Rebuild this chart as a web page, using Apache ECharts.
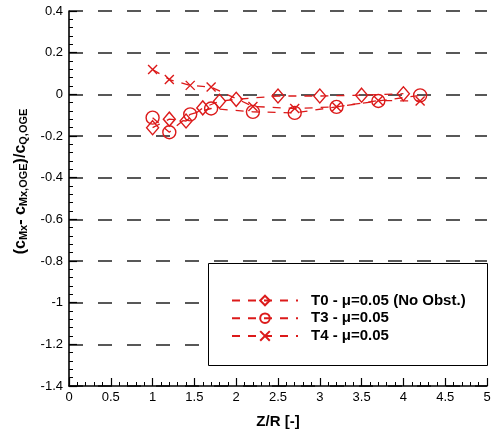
<!DOCTYPE html>
<html>
<head>
<meta charset="utf-8">
<script src="https://cdn.jsdelivr.net/npm/echarts@6/dist/echarts.min.js"></script>
<style>html,body{margin:0;padding:0;background:#fff}#c{width:494px;height:434px}</style>
</head>
<body>
<div id="c"></div>
<script>
var t0X = [1.0, 1.2, 1.4, 1.6, 1.8, 2.0, 2.5, 3.0, 3.5, 4.0];
var t0Y = [-0.160, -0.119, -0.128, -0.065, -0.033, -0.024, -0.008, -0.008, -0.004, 0.003];
var t3X = [1.0, 1.2, 1.45, 1.7, 2.2, 2.7, 3.2, 3.7, 4.2];
var t3Y = [-0.112, -0.182, -0.096, -0.068, -0.084, -0.089, -0.060, -0.032, -0.005];
var t4X = [1.0, 1.2, 1.45, 1.7, 2.2, 2.7, 3.2, 3.7, 4.2];
var t4Y = [0.119, 0.071, 0.043, 0.035, -0.058, -0.068, -0.060, -0.030, -0.032];
var seriesNames = ['T0 - \u03bc=0.05 (No Obst.)', 'T3 - \u03bc=0.05', 'T4 - \u03bc=0.05'];

function pairs(xs, ys) { return xs.map(function (x, i) { return [x, ys[i]]; }); }

var RED = '#dc1a1a';
var FONT = 'Liberation Sans';
var xMark = 'path://M0,0L10,10M10,0L0,10';

function mk(name, data, symbol, size) {
  return {
    name: name, type: 'line', data: data,
    symbol: symbol, symbolSize: size,
    lineStyle: { color: RED, width: 1.3, type: [8, 8] },
    itemStyle: { color: 'rgba(0,0,0,0)', borderColor: RED, borderWidth: 1.4 },
    emphasis: { disabled: true },
    animation: false
  };
}

var chart = echarts.init(document.getElementById('c'), null, { renderer: 'canvas' });
chart.setOption({
  animation: false,
  backgroundColor: '#fff',
  grid: { left: 69, right: 7, top: 11, bottom: 44 },
  xAxis: {
    type: 'value', min: 0, max: 5, interval: 0.5,
    name: 'Z/R [-]', nameLocation: 'middle', nameGap: 28,
    nameTextStyle: { fontFamily: FONT, fontWeight: 'bold', fontSize: 15, color: '#000' },
    axisLine: { show: true, onZero: false, lineStyle: { color: '#000', width: 1.6 } },
    axisTick: { show: true, inside: true, length: 8, lineStyle: { color: '#000', width: 1.2 } },
    minorTick: { show: true, splitNumber: 5, length: 4, lineStyle: { color: '#000', width: 1 } },
    axisLabel: { fontFamily: FONT, fontSize: 13, color: '#000', margin: 5 },
    splitLine: { show: false }
  },
  yAxis: {
    type: 'value', min: -1.4, max: 0.4, interval: 0.2,
    name: '(c{s|Mx}- c{s|Mx,OGE})/c{s|Q,OGE}',
    nameLocation: 'middle', nameRotate: 90, nameGap: 23,
    nameTextStyle: {
      fontFamily: FONT, fontWeight: 'bold', fontSize: 16, color: '#000',
      padding: [0, 0, 0, 34],
      rich: { s: { fontFamily: FONT, fontWeight: 'bold', fontSize: 11, color: '#000', padding: [8, 0, 0, 0] } }
    },
    axisLine: { show: true, onZero: false, lineStyle: { color: '#000', width: 1.6 } },
    axisTick: { show: true, inside: true, length: 8, lineStyle: { color: '#000', width: 1.2 } },
    minorTick: { show: true, splitNumber: 5, length: 4, lineStyle: { color: '#000', width: 1 } },
    axisLabel: { fontFamily: FONT, fontSize: 13, color: '#000', margin: 6,
      formatter: function (v) { return String(Math.round(v * 10) / 10); } },
    splitLine: { show: true, lineStyle: { color: '#222', width: 1.5, type: [14, 15] } }
  },
  legend: {
    orient: 'vertical', left: 226, top: 288, z: 5,
    itemWidth: 66, itemHeight: 12, itemGap: 2.7,
    textStyle: { fontFamily: FONT, fontWeight: 'bold', fontSize: 15, lineHeight: 15, color: '#000', padding: [0, 0, 0, 8] },
    data: seriesNames
  },
  graphic: [{
    type: 'rect', shape: { x: 208.5, y: 263.5, width: 279, height: 102 },
    style: { fill: '#fff', stroke: '#000', lineWidth: 1 }, z: 3, silent: true
  }],
  series: [
    mk(seriesNames[0], pairs(t0X, t0Y), 'diamond', [12, 14]),
    mk(seriesNames[1], pairs(t3X, t3Y), 'circle', 13),
    mk(seriesNames[2], pairs(t4X, t4Y), xMark, 9)
  ]
});
</script>
</body>
</html>
